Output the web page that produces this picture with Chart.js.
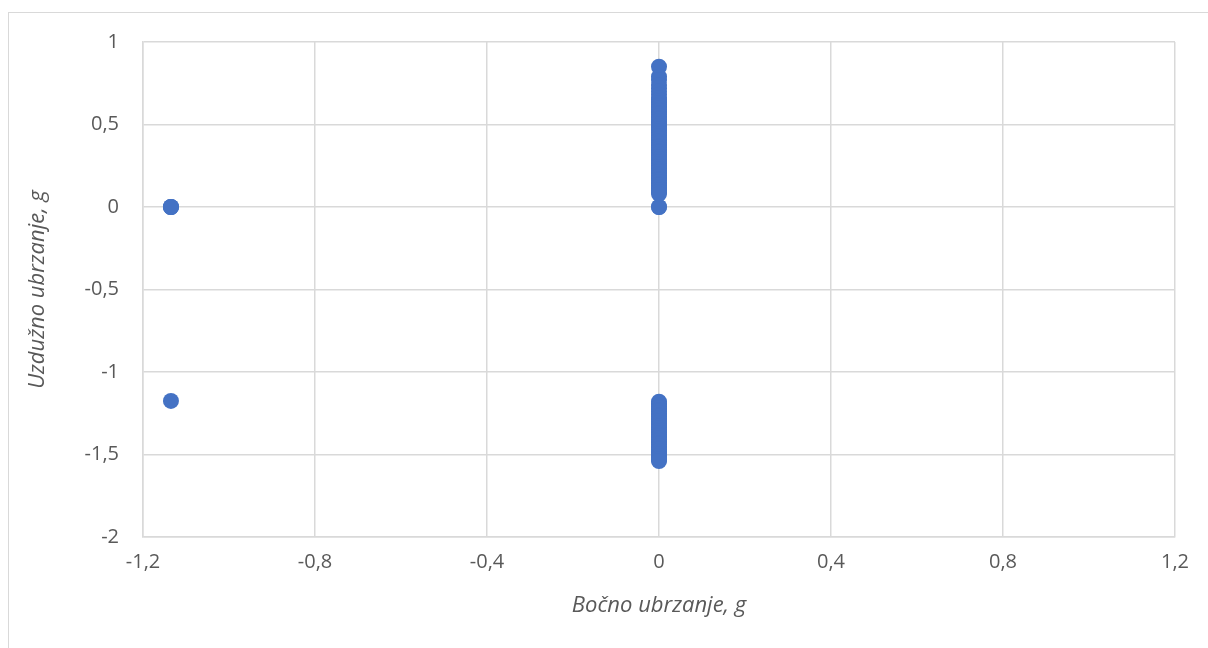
<!DOCTYPE html>
<html>
<head>
<meta charset="utf-8">
<script src="https://cdn.jsdelivr.net/npm/chart.js@4/dist/chart.umd.min.js"></script>
<style>
  body { margin: 0; background: #fff; }
  #frame { position: absolute; left: 8px; top: 12px; width: 1300px; height: 700px;
           border-left: 1px solid #d9d9d9; border-top: 1px solid #d9d9d9; }
  #chart { position: absolute; left: 0; top: 0; }
</style>
</head>
<body>
<div id="frame"></div>
<canvas id="chart" width="1208" height="648"></canvas>
<script>
// longitudinal acceleration readings (g) for each lateral group
var uzduznoLijevo = [0, 0, 0, -1.175];            // lateral = -1.135 g
var uzduznoGore = [                                // lateral = 0 g, positive
  0, 0, 0.85, 0.79, 0.77, 0.74, 0.72, 0.70, 0.68, 0.66, 0.65, 0.64, 0.63, 0.62, 0.61,
  0.60, 0.59, 0.58, 0.57, 0.56, 0.55, 0.54, 0.53, 0.52, 0.51, 0.50, 0.49, 0.48,
  0.47, 0.46, 0.45, 0.44, 0.43, 0.42, 0.41, 0.40, 0.39, 0.38, 0.37, 0.36, 0.35,
  0.34, 0.33, 0.32, 0.31, 0.30, 0.29, 0.28, 0.27, 0.26, 0.25, 0.24, 0.23, 0.22,
  0.21, 0.20, 0.19, 0.18, 0.17, 0.16, 0.15, 0.14, 0.13, 0.12, 0.11, 0.10, 0.09, 0.08
];
var uzduznoDolje = [                               // lateral = 0 g, braking
  -1.18, -1.19, -1.20, -1.21, -1.22, -1.23, -1.24, -1.25, -1.26, -1.27, -1.28,
  -1.29, -1.30, -1.31, -1.32, -1.33, -1.34, -1.35, -1.36, -1.37, -1.38, -1.39,
  -1.40, -1.41, -1.42, -1.43, -1.44, -1.45, -1.46, -1.47, -1.48, -1.49, -1.50,
  -1.51, -1.52, -1.53, -1.54
];
var bocnoLijevo = -1.135;
var bocnoSredina = 0;

var xTitle = 'Bočno ubrzanje, g';
var yTitle = 'Uzdužno ubrzanje, g';

var points = [];
uzduznoLijevo.forEach(function (y) { points.push({ x: bocnoLijevo, y: y }); });
uzduznoGore.forEach(function (y) { points.push({ x: bocnoSredina, y: y }); });
uzduznoDolje.forEach(function (y) { points.push({ x: bocnoSredina, y: y }); });

function commaLabel(v) {
  return String(Math.round(v * 10) / 10).replace('.', ',');
}

var gridColor = '#d9d9d9';
var tickFont = { family: 'Open Sans', size: 20 };
var titleFont = { family: 'Open Sans', size: 22, style: 'italic' };

var ctx = document.getElementById('chart').getContext('2d');
var chart = new Chart(ctx, {
  type: 'scatter',
  data: {
    datasets: [{
      data: points,
      backgroundColor: '#4472C4',
      borderWidth: 0,
      pointRadius: 8,
      pointHoverRadius: 8
    }]
  },
  options: {
    responsive: false,
    animation: false,
    layout: { padding: { left: 0, top: 42, right: 33, bottom: 0 } },
    plugins: { legend: { display: false }, tooltip: { enabled: false } },
    scales: {
      x: {
        type: 'linear',
        min: -1.2,
        max: 1.2,
        afterFit: function (scale) { scale.height = 111; },
        grid: { color: gridColor, lineWidth: 1.5, drawTicks: false },
        border: { color: gridColor, width: 1.5 },
        ticks: { stepSize: 0.4, padding: 13, color: '#595959', font: tickFont, callback: commaLabel },
        title: { display: true, text: xTitle, color: '#595959', font: titleFont, padding: { top: 0, bottom: 29 } }
      },
      y: {
        type: 'linear',
        min: -2,
        max: 1,
        afterFit: function (scale) { scale.width = 143; },
        grid: { color: gridColor, lineWidth: 1.5, drawTicks: false },
        border: { color: gridColor, width: 1.5 },
        ticks: { stepSize: 0.5, padding: 24, color: '#595959', font: tickFont, callback: commaLabel },
        title: { display: true, text: yTitle, color: '#595959', font: titleFont, padding: { top: 25, bottom: 0 } }
      }
    }
  }
});
</script>
</body>
</html>
